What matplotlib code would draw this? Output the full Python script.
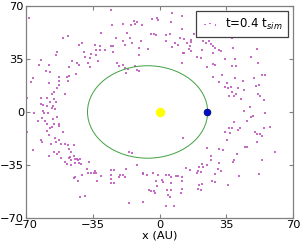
import matplotlib
matplotlib.use("Agg")
import matplotlib.pyplot as plt
from matplotlib.patches import Ellipse

# ---- data ----
sun_x, sun_y = [0.0], [0.0]
planet_x, planet_y = [25.0], [0.0]
orbit_a = 31.5      # semi-major axis (AU)
orbit_b = 30.5      # semi-minor axis (AU)
orbit_cx = -6.3     # ellipse centre x (AU)

particles_x = [
    # upper-left
    -68.6, -48.2, -50.9, -40.8, -42.5, -54.0, -54.3, -39.7, -36.0, -39.0, -36.6, -62.0, -46.0, -43.5,
    -42.2, -37.3, -36.6, -63.0, -47.4, -58.2, -59.6, -57.5, -43.9, -47.7, -48.8, -52.6, -66.5, -67.4,
    -58.2, -53.0, -48.0, -52.6, -54.0, -55.4, -56.4, -49.5, -62.3, -58.9, -55.4, -54.3, -57.5, -62.0,
    -61.0, -58.9, -56.0, -55.0, -56.4, -61.3, -69.5,
    -25.6, -19.0, -13.4, -12.0, -14.8, -13.0, -9.2, -4.0, -1.6, -0.9, -24.9, -30.5, -17.3, -4.4,
    -3.0, -2.0, -22.8, -15.5, -34.0, -31.5, -25.3, -24.2, -19.3, -18.3, -14.5, -9.9, -11.0, -6.1,
    -33.6, -31.2, -28.7, -24.2, -33.3, -10.6, -32.2, -22.5, -21.4, -19.0, -18.3, -16.6, -13.1, -12.0,
    -10.6, -17.6,
    # upper-right
    6.6, 11.5, 5.9, 11.8, 5.2, 3.1, 18.1, 20.2, 10.8, 12.9, 3.1, 8.0, 9.7, 16.4, 16.7, 14.3, 16.0,
    6.6, 15.3, 16.4, 23.0, 25.8, 24.4, 26.8, 27.8, 29.2, 31.0, 32.4, 22.3, 27.8, 12.2, 12.9, 19.5,
    21.6, 34.5, 11.5, 28.2, 29.2, 24.7, 32.7, 27.8, 31.0, 34.5,
    37.8, 38.5, 51.0, 47.9, 39.5, 51.4, 38.1, 40.2, 53.8, 55.5, 39.5, 43.7, 49.3, 52.1, 50.3, 37.4,
    35.7, 41.3, 44.0, 38.1, 39.9, 36.4, 38.8, 51.7, 52.7, 42.7, 54.5, 47.2, 44.0, 35.3,
    # lower-left
    -65.8, -60.6, -58.5, -54.0, -61.6, -56.1, -63.7, -59.9, -58.9, -55.4, -52.6, -56.4, -52.9, -57.5,
    -58.9, -69.7, -58.2, -50.5, -54.7, -62.3, -61.6, -52.6, -54.3, -57.1, -51.9, -49.5, -48.1, -44.9,
    -47.7, -66.5, -55.4, -54.0, -52.9, -46.3, -57.8, -51.6, -47.7, -47.0, -44.9, -44.6, -46.3, -43.5,
    -42.8, -41.5, -49.5, -44.2, -42.2, -41.1, -48.4, -46.3, -36.9, -38.3, -37.3, -35.9, -40.8, -44.2,
    -42.8, -44.9, -41.8, -39.0,
    -15.9, -14.5, -11.7, -34.3, -33.3, -34.0, -30.8, -32.9, -25.6, -23.9, -25.6, -20.7, -19.0, -17.6,
    -18.3, -25.3, -21.1, -25.3, -23.9, -8.6, -8.9, -6.8, -3.3, -0.9, -1.9, -1.6, -5.8, -4.4, -3.0,
    -2.3, -16.2, -8.9,
    # lower-right
    12.5, 24.7, 31.0, 33.4, 34.1, 26.8, 27.1, 22.3, 25.1, 20.5, 22.6, 13.6, 15.7, 20.2, 21.6, 19.5,
    31.0, 30.6, 32.0, 29.2, 3.1, 4.9, 5.9, 8.4, 9.4, 1.0, 1.7, 11.5, 11.5, 5.9, 22.3, 20.9, 27.5,
    29.2, 20.2, 21.6, 3.8, 5.9, 11.8, 11.1, 4.2, 5.2, 3.1, 7.7,
    55.5, 48.9, 47.9, 45.8, 39.2, 36.4, 37.8, 41.3, 42.0, 36.7, 54.8, 58.0, 50.0, 51.0, 52.7, 53.8,
    35.3, 51.0, 44.7, 45.8, 60.4, 40.6, 39.2, 38.5, 53.8, 52.1, 41.6, 35.7,
]
particles_y = [
    # upper-left
    61.7, 50.4, 48.9, 45.6, 44.3, 39.5, 37.7, 39.5, 38.4, 36.0, 35.6, 34.5, 33.4, 32.0,
    30.8, 32.5, 29.5, 30.8, 29.5, 31.2, 26.8, 26.4, 25.3, 23.8, 22.9, 23.1, 22.5, 19.9,
    19.0, 20.3, 20.7, 17.7, 16.0, 12.9, 12.0, 11.6, 9.4, 9.0, 8.3, 6.8, 6.8, 5.5,
    4.6, 4.2, 3.7, 2.0, 2.4, 0.7, 9.5,
    67.4, 58.0, 60.0, 59.1, 57.4, 57.8, 57.4, 61.3, 62.2, 60.8, 57.4, 52.1, 52.1, 51.3,
    51.7, 50.8, 49.1, 48.6, 44.3, 43.8, 43.8, 43.4, 46.5, 44.3, 45.6, 46.5, 42.5, 41.7,
    41.2, 40.8, 40.8, 39.5, 37.3, 37.3, 33.4, 32.1, 30.3, 31.2, 29.0, 28.6, 30.3, 27.7,
    26.8, 25.5,
    # upper-right
    65.2, 63.5, 59.1, 54.7, 51.7, 50.8, 51.7, 50.8, 49.1, 48.2, 46.9, 45.6, 44.3, 47.3, 46.0, 45.6, 43.4,
    43.0, 41.7, 40.4, 46.5, 46.5, 45.6, 44.7, 43.4, 42.5, 40.8, 39.9, 40.8, 38.6, 39.0, 39.0, 36.4,
    35.6, 35.1, 32.1, 31.6, 31.2, 29.5, 24.7, 23.4, 19.9, 16.4,
    49.1, 42.1, 41.7, 36.4, 34.7, 32.5, 30.3, 30.3, 24.7, 24.2, 22.5, 20.7, 22.5, 18.1, 17.2, 16.4,
    15.5, 15.9, 14.2, 12.9, 12.0, 10.7, 10.7, 11.6, 10.7, 8.5, 7.7, 3.3, 0.7, 19.4,
    # lower-left
    -0.9, -0.4, -0.4, -3.1, -3.9, -4.4, -5.7, -5.7, -7.8, -7.8, -7.8, -10.0, -9.2, -10.9,
    -12.6, -13.5, -15.3, -13.1, -17.0, -18.3, -20.1, -18.3, -19.6, -21.4, -21.4, -21.4, -21.8, -21.8,
    -24.4, -24.9, -26.2, -27.5, -26.6, -26.2, -29.2, -30.5, -30.1, -29.6, -28.8, -31.0, -31.8, -31.0,
    -31.8, -31.0, -32.7, -34.0, -34.0, -34.4, -34.4, -34.9, -33.1, -37.5, -40.1, -40.5, -41.9, -42.7,
    -45.8, -43.6, -55.8, -55.4,
    -26.6, -27.0, -34.9, -40.1, -40.5, -39.2, -42.3, -45.8, -38.4, -38.4, -41.4, -41.9, -41.4, -37.5,
    -43.2, -44.5, -43.2, -47.1, -47.1, -40.1, -41.0, -41.9, -40.5, -41.4, -45.8, -48.8, -51.4, -51.9, -52.3,
    -53.2, -60.2, -59.3,
    # lower-right
    -17.4, -24.0, -24.4, -25.3, -13.5, -29.2, -31.4, -34.4, -34.9, -36.2, -36.6, -37.1, -38.4, -39.2, -39.7, -40.1,
    -33.6, -37.5, -39.2, -41.0, -41.4, -41.9, -43.2, -42.3, -42.3, -44.9, -46.2, -43.2, -45.8, -47.1, -47.5, -48.4, -45.8,
    -46.2, -50.6, -51.4, -51.4, -51.4, -51.0, -53.6, -54.9, -55.8, -62.3, -61.9,
    -0.4, -2.6, -3.1, -5.7, -6.5, -10.9, -10.5, -11.8, -10.9, -14.0, -10.5, -10.0, -13.5, -14.8, -14.8, -15.7,
    -18.7, -19.6, -23.1, -23.1, -26.2, -27.5, -31.8, -33.1, -31.4, -41.0, -42.3, -48.4,
]

legend_label = r"t=0.4 t$_{sim}$"
xticks = [-70, -35, 0, 35, 70]
yticks = [-70, -35, 0, 35, 70]

# ---- plot ----
fig = plt.figure(figsize=(3.0, 2.45), dpi=100)
ax = fig.add_axes([0.087, 0.11, 0.89, 0.866])

ax.scatter(particles_x, particles_y, s=1.4, marker='s', color='#b848b8',
           linewidths=0, alpha=0.8, label=legend_label, zorder=2)
orbit = Ellipse((orbit_cx, 0), 2 * orbit_a, 2 * orbit_b, fill=False,
                edgecolor='#40a040', linewidth=0.7, zorder=3)
ax.add_patch(orbit)
ax.plot(sun_x, sun_y, 'o', color='#ffff00', markeredgecolor='#ffff00',
        markersize=5.8, zorder=4)
ax.plot(planet_x, planet_y, 'o', color='#0010c8', markeredgecolor='#000080',
        markeredgewidth=0.6, markersize=4.8, zorder=5)

ax.set_xlim(-70, 70)
ax.set_ylim(-70, 70)
ax.set_xticks(xticks)
ax.set_yticks(yticks)
ax.set_xticklabels([str(t).replace('-', '\u2212') for t in xticks])
ax.set_yticklabels([str(t).replace('-', '\u2212') for t in yticks])
ax.tick_params(direction='in', length=3, width=0.8, color='#808080',
               top=True, right=True, labelsize=8.2, pad=1.5)
ax.tick_params(axis='x', pad=1.5)
for sp in ax.spines.values():
    sp.set_color('#808080')
    sp.set_linewidth(0.9)
ax.set_xlabel('x (AU)', fontsize=8.2, labelpad=0.5)

leg = ax.legend(loc='upper right', fontsize=8.5, scatterpoints=3,
                fancybox=False, framealpha=1, edgecolor='#404040',
                borderpad=0.45, handletextpad=0.5, handlelength=1.5,
                borderaxespad=0.45)
leg.get_frame().set_linewidth(0.9)

fig.savefig('out.png', dpi=100)
